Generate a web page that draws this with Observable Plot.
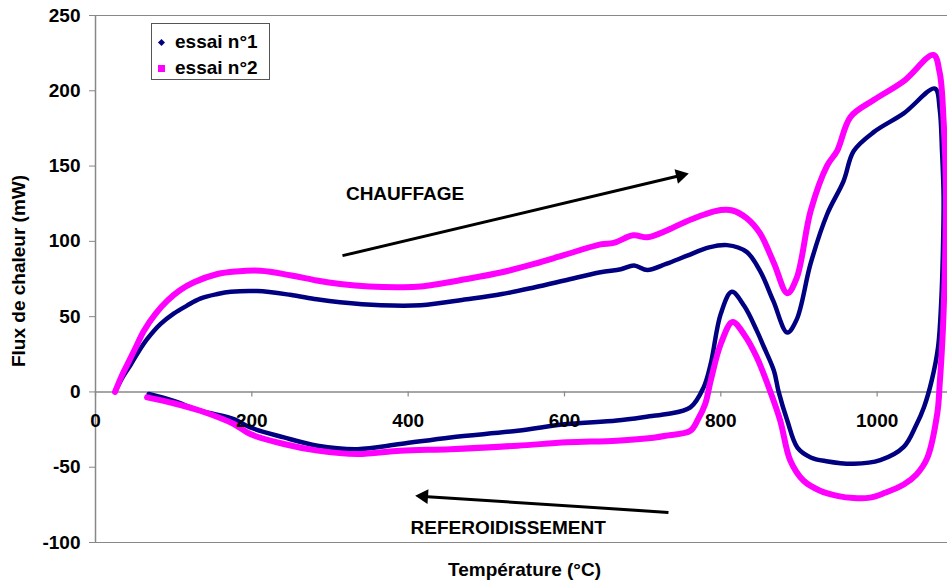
<!DOCTYPE html>
<html>
<head>
<meta charset="utf-8">
<script src="https://cdn.jsdelivr.net/npm/d3@7"></script>
<script src="https://cdn.jsdelivr.net/npm/@observablehq/plot@0.6"></script>
<style>
  body { margin: 0; background: #fff; }
  #wrap { position: relative; width: 947px; height: 588px; font-family: "Liberation Sans", Arial, sans-serif; }
  #legend { position: absolute; left: 151px; top: 23px; width: 119px; height: 57px; border: 1px solid #555; background: #fff; box-sizing: border-box; }
  .item { position: absolute; left: 0; height: 20px; display: flex; align-items: center; font-weight: bold; font-size: 19px; color: #000; }
  .item span.t { position: absolute; left: 23px; white-space: nowrap; }
  .mk { position: absolute; }
</style>
</head>
<body>
<div id="wrap">
  <div id="legend"></div>
</div>
<script>
// ---- data (Température °C, Flux de chaleur mW) ----
const xTicks = [0, 200, 400, 600, 800, 1000];
const yTicks = [-100, -50, 0, 50, 100, 150, 200, 250];
const xLabel = "Température (°C)";
const yLabel = "Flux de chaleur (mW)";
const seriesNames = ["essai n°1", "essai n°2"];
const seriesColors = ["#000080", "#ff00ff"];

const essai1 = [
  [25,0],[35,10],[45,18],[53,25],[66,35],[83,45],[100,52],[117,57.3],[134,62],[156,65],
  [173,66.5],[207,67],[249,64.5],[283,61.5],[313,59.5],[365,57.5],[416,57.5],[475,61.5],
  [520,65],[561,69.4],[600,74],[646,79.5],[672,81.5],[689,84],[706,81],[730,85],[757,90.5],
  [785,96],[808,97.5],[833,93],[850,80.5],[867,60.6],[885,39.5],[897,48],[915,85.5],[936,118],
  [957,140],[970,160],[996,172.7],[1034,185],[1074,201.5],
  [1080,188],[1083,160],[1085,130],[1084,90],[1082,60],[1078,30],[1070,8],[1060,-10],[1050,-22],
  [1034,-36.5],[1004,-45.3],[970,-47.7],[935,-46],[915,-43.5],[898,-37],[885,-19],[874,0],
  [868,14],[855,30],[846,40.7],[830,57],[814,66.5],[800,52],[787,18.5],[778,3],[761,-10.3],
  [731,-14.7],[714,-15.8],[667,-19],[603,-21.3],[540,-25.8],[454,-30.2],[390,-34.6],[335,-38],
  [284,-35.7],[241,-30.2],[198,-23.6],[177,-18],[134,-12.5],[100,-6],[68,-1.4]
];

const essai2 = [
  [25,0],[33,10],[41,18.5],[50,28],[62,40.7],[77,52],[92,60.6],[108,67.5],[126,72.8],[156,78.3],
  [180,80],[211,80.5],[249,77.5],[283,74],[313,71.7],[350,70],[390,69.5],[416,70],[475,75],
  [520,79.5],[561,85],[600,91],[646,98],[663,99],[688,104],[706,102.7],[730,107],[753,112.6],
  [780,118],[800,120.8],[815,120.5],[833,115.4],[850,105.4],[868,85.5],[885,65.6],[897,75.5],
  [915,120.4],[936,150.3],[949,160.3],[966,182.7],[996,194],[1034,206.4],[1072,223.8],
  [1080,212],[1085,180],[1088,135],[1087,90],[1084,40],[1080,5],[1077,-14],[1064,-44],[1050,-55],
  [1034,-61.5],[1010,-67],[991,-70.2],[970,-70.5],[949,-69],[927,-65.6],[906,-59],[889,-45.7],
  [876,-19],[863.5,0],[846,23],[830,38],[815,46.5],[800,32],[787,7.4],[780,-8],[771,-18],
  [761,-25.8],[731,-29],[714,-30.4],[667,-32.4],[603,-33.5],[540,-35.7],[454,-38],[390,-39],
  [335,-41.3],[284,-39],[241,-34.6],[198,-28],[177,-21.3],[134,-12.5],[100,-7.5],[66,-3.6]
];

const annotationTexts = [
  {t: 396, f: 131.7, text: "CHAUFFAGE"},
  {t: 528, f: -90, text: "REFEROIDISSEMENT"}
];
// arrows: start (x1,y1) -> tip (x2,y2)
const annotationArrows = [
  {x1: 316, y1: 90.5, x2: 759, y2: 145},
  {x1: 733, y1: -80, x2: 409, y2: -69}
];

// ---- layout ----
const W = 947, H = 588;
const mTop = 15, mBottom = 46, mLeft = 95, mRight = 0;
const xDomain = [0, 1090];
const yDomain = [d3.min(yTicks), d3.max(yTicks)];
const pxX = (W - mLeft - mRight) / (xDomain[1] - xDomain[0]);
const pxY = (H - mTop - mBottom) / (yDomain[1] - yDomain[0]);
const tickLen = 5 / pxY;
const gray = "#888888";
const font = "'Liberation Sans', Arial, sans-serif";

// arrow heads: filled triangles whose tip sits at (x2, y2)
const headR = 5.5;
const headBack = Math.sqrt(Math.PI * headR * headR * 4 / Math.sqrt(3)) / Math.sqrt(3); // centroid-to-tip
const arrowHeads = annotationArrows.map(a => {
  const dx = (a.x2 - a.x1) * pxX, dy = -(a.y2 - a.y1) * pxY;
  const len = Math.hypot(dx, dy);
  const ux = dx / len, uy = dy / len;
  return {
    x: a.x2 - ux * headBack / pxX,
    y: a.y2 + uy * headBack / pxY,
    angle: Math.atan2(dy, dx) * 180 / Math.PI + 90
  };
});
const shafts = annotationArrows.map((a, i) => ({x1: a.x1, y1: a.y1, x2: arrowHeads[i].x, y2: arrowHeads[i].y}));

const toRows = (arr, name) => arr.map(([t, f]) => ({t, f, name}));

const chart = Plot.plot({
  width: W, height: H,
  marginTop: mTop, marginBottom: mBottom, marginLeft: mLeft, marginRight: mRight,
  style: {fontFamily: font, fontSize: "19px", fontWeight: "bold", background: "#fff", color: "#000"},
  x: {domain: xDomain, axis: null},
  y: {domain: yDomain, axis: null},
  marks: [
    Plot.ruleY(yDomain, {stroke: gray, strokeWidth: 1.2}),
    Plot.ruleX([0], {stroke: gray, strokeWidth: 1.5}),
    Plot.ruleY([0], {stroke: gray, strokeWidth: 1.5}),
    Plot.axisY({ticks: yTicks, tickSize: 6, tickPadding: 9, stroke: gray, fill: "#000", label: null, tickFormat: d => String(d)}),
    Plot.ruleX(xTicks, {x: d => d, y1: 0, y2: -tickLen, stroke: gray, strokeWidth: 1.2}),
    Plot.line(toRows(essai1, seriesNames[0]), {x: "t", y: "f", stroke: seriesColors[0], strokeWidth: 4.5, curve: "catmull-rom", strokeLinejoin: "round"}),
    Plot.line(toRows(essai2, seriesNames[1]), {x: "t", y: "f", stroke: seriesColors[1], strokeWidth: 6, curve: "catmull-rom", strokeLinejoin: "round"}),
    Plot.text(xTicks, {x: d => d, y: 0, dy: 29, text: d => String(d), fill: "#000"}),
    Plot.link(shafts, {x1: "x1", y1: "y1", x2: "x2", y2: "y2", stroke: "#000", strokeWidth: 3}),
    Plot.dot(arrowHeads, {x: "x", y: "y", symbol: "triangle", r: headR, fill: "#000", rotate: "angle"}),
    Plot.text(annotationTexts, {x: "t", y: "f", text: "text", fill: "#000"}),
    Plot.text([xLabel], {frameAnchor: "bottom", dx: 3, dy: 33, text: d => d, fill: "#000"}),
    Plot.text([yLabel], {frameAnchor: "left", textAnchor: "middle", rotate: -90, dx: -77, dy: -8, text: d => d, fill: "#000"})
  ]
});

const wrap = document.getElementById("wrap");
wrap.insertBefore(chart, wrap.firstChild);

// legend (HTML overlay)
const legend = document.getElementById("legend");
seriesNames.forEach((name, i) => {
  const it = document.createElement("div");
  it.className = "item";
  it.style.top = (i === 0 ? 8 : 34) + "px";
  it.style.width = "117px";
  const mk = document.createElement("div");
  mk.className = "mk";
  if (i === 0) {
    mk.style.cssText = `left:7px;width:5px;height:5px;background:${seriesColors[i]};transform:rotate(45deg);`;
  } else {
    mk.style.cssText = `left:6px;width:7px;height:7px;background:${seriesColors[i]};`;
  }
  const t = document.createElement("span");
  t.className = "t";
  t.textContent = name;
  it.appendChild(mk);
  it.appendChild(t);
  legend.appendChild(it);
});
</script>
</body>
</html>
